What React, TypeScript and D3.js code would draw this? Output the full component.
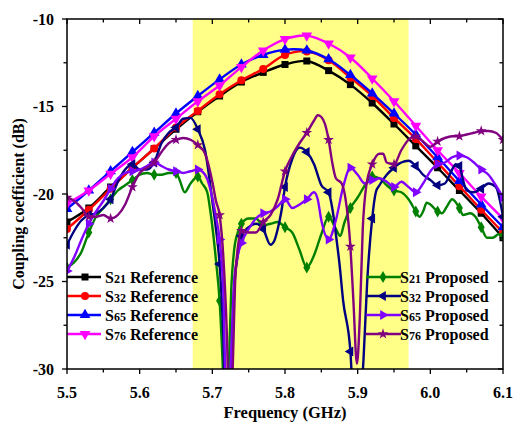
import React from 'react';
import * as d3 from 'd3';

const W = 514;
const H = 426;
const plot = { left: 67, right: 503, top: 19, bottom: 369 };

// Highlighted pass band (GHz)
const bandStart = 5.673;
const bandEnd = 5.97;

const xTicks = [5.5, 5.6, 5.7, 5.8, 5.9, 6.0, 6.1];
const xMinorTicks = [5.55, 5.65, 5.75, 5.85, 5.95, 6.05];
const yTicks = [-30, -25, -20, -15, -10];
const yMinorTicks = [-27.5, -22.5, -17.5, -12.5];

// Reference responses, sampled every 0.03 GHz
const refFreq = [5.5, 5.53, 5.56, 5.59, 5.62, 5.65, 5.68, 5.71, 5.74, 5.77, 5.8, 5.83, 5.86, 5.89, 5.92, 5.95, 5.98, 6.01, 6.04, 6.07, 6.1];
const s21Reference = [-21.6, -20.8, -19.6, -18.5, -17.4, -16.3, -15.3, -14.4, -13.6, -13.05, -12.6, -12.4, -12.95, -13.75, -14.8, -16.0, -17.25, -18.5, -19.8, -21.1, -22.5];
const s32Reference = [-22.0, -20.9, -19.7, -18.5, -17.4, -16.2, -15.25, -14.3, -13.5, -12.85, -12.05, -11.85, -12.35, -13.35, -14.4, -15.65, -16.85, -18.2, -19.55, -20.9, -22.2];
const s65Reference = [-20.85, -19.8, -18.7, -17.6, -16.5, -15.4, -14.4, -13.45, -12.6, -12.05, -11.75, -11.8, -12.3, -13.2, -14.25, -15.4, -16.6, -17.9, -19.25, -20.6, -21.9];
const s76Reference = [-20.55, -19.8, -18.85, -17.9, -16.7, -15.7, -14.7, -13.8, -12.75, -11.8, -11.15, -10.95, -11.4, -12.2, -13.4, -14.7, -16.1, -17.5, -18.8, -20.15, -21.4];

// Proposed responses
const s21ProposedFreq = [5.5, 5.51, 5.52, 5.53, 5.54, 5.55, 5.56, 5.57, 5.58, 5.59, 5.6, 5.61, 5.62, 5.63, 5.64, 5.65, 5.655, 5.662, 5.67, 5.68, 5.686, 5.693, 5.697, 5.701, 5.705, 5.71, 5.714, 5.718, 5.722, 5.726, 5.73, 5.735, 5.74, 5.75, 5.76, 5.77, 5.78, 5.79, 5.8, 5.81, 5.82, 5.83, 5.84, 5.85, 5.86, 5.87, 5.876, 5.882, 5.89, 5.9, 5.91, 5.92, 5.93, 5.94, 5.95, 5.96, 5.97, 5.98, 5.985, 5.99, 5.995, 6.0, 6.01, 6.016, 6.023, 6.03, 6.04, 6.045, 6.055, 6.062, 6.07, 6.078, 6.086, 6.094, 6.1];
const s21ProposedDb = [-24.2, -23.9, -23.3, -22.2, -21.3, -20.8, -20.3, -19.8, -19.5, -19.2, -18.9, -18.8, -18.9, -18.9, -18.8, -18.8, -19.2, -19.9, -19.4, -19.0, -19.4, -19.9, -20.9, -22.2, -23.8, -26.1, -29.5, -34, -31, -25.5, -23.2, -22.2, -21.7, -21.4, -21.4, -21.8, -21.7, -21.6, -21.9, -22.2, -23.2, -24.2, -23.5, -22.3, -21.3, -22.0, -22.4, -21.6, -20.8, -20.2, -19.5, -19.0, -19.1, -19.5, -19.8, -19.9, -20.3, -21.0, -21.3, -21.0, -20.5, -20.6, -21.0, -21.1, -20.7, -20.3, -20.8, -21.2, -21.1, -21.3, -21.9, -22.5, -22.5, -22.3, -22.4];

const s32ProposedFreq = [5.5, 5.51, 5.52, 5.53, 5.54, 5.55, 5.56, 5.57, 5.58, 5.59, 5.6, 5.61, 5.62, 5.63, 5.64, 5.65, 5.66, 5.67, 5.68, 5.69, 5.7, 5.705, 5.71, 5.715, 5.72, 5.726, 5.73, 5.735, 5.74, 5.75, 5.76, 5.77, 5.78, 5.785, 5.79, 5.795, 5.8, 5.81, 5.82, 5.83, 5.84, 5.85, 5.86, 5.865, 5.87, 5.875, 5.88, 5.89, 5.895, 5.9, 5.905, 5.908, 5.913, 5.92, 5.925, 5.93, 5.94, 5.95, 5.96, 5.97, 5.98, 5.99, 6.0, 6.01, 6.02, 6.03, 6.035, 6.04, 6.045, 6.05, 6.06, 6.07, 6.08, 6.09, 6.1];
const s32ProposedDb = [-22.9, -22.1, -21.5, -21.2, -21.1, -20.8, -20.3, -19.3, -18.6, -18.3, -18.6, -18.6, -18.2, -17.1, -16.5, -16.2, -15.7, -15.65, -16.3, -17.5, -20.4, -22.0, -24.0, -28, -35, -30, -25.5, -23.5, -22.4, -21.9, -21.7, -22.0, -22.9, -22.7, -22.0, -21.0, -19.6, -18.0, -17.35, -17.6, -18.3, -19.5, -19.9, -20.8, -22.3, -24.0, -26.1, -29.0, -33, -35, -31.5, -29.5, -25.1, -21.4, -19.9, -19.5, -18.9, -18.5, -18.2, -18.1, -18.4, -18.9, -19.2, -19.5, -19.4, -18.6, -18.3, -18.4, -19.2, -19.8, -19.9, -19.7, -19.4, -19.6, -21.3];

const s65ProposedFreq = [5.5, 5.51, 5.52, 5.53, 5.54, 5.55, 5.56, 5.57, 5.58, 5.59, 5.6, 5.61, 5.62, 5.63, 5.64, 5.65, 5.66, 5.67, 5.68, 5.69, 5.7, 5.705, 5.71, 5.715, 5.72, 5.725, 5.73, 5.735, 5.74, 5.75, 5.76, 5.77, 5.78, 5.79, 5.8, 5.81, 5.82, 5.83, 5.84, 5.845, 5.85, 5.86, 5.87, 5.88, 5.89, 5.9, 5.91, 5.92, 5.93, 5.94, 5.95, 5.96, 5.97, 5.98, 5.99, 6.0, 6.01, 6.02, 6.03, 6.04, 6.05, 6.06, 6.07, 6.08, 6.09, 6.1];
const s65ProposedDb = [-24.4, -23.6, -22.6, -21.7, -21.0, -20.4, -19.7, -19.1, -18.8, -18.7, -18.6, -18.4, -18.2, -18.4, -18.6, -18.7, -18.8, -18.7, -18.6, -18.9, -20.2, -21.3, -22.6, -25.5, -33, -30, -25, -23.5, -22.8, -22.0, -21.4, -21.1, -21.0, -20.7, -20.3, -20.8, -20.6, -20.3, -19.9, -20.3, -21.5, -22.6, -21.5, -19.6, -18.5, -18.9, -19.4, -19.2, -19.1, -19.3, -19.6, -19.3, -19.6, -19.9, -19.4, -18.7, -18.3, -18.2, -17.9, -17.8, -17.9, -18.2, -18.6, -18.9, -19.5, -20.2];

const s76ProposedFreq = [5.5, 5.51, 5.52, 5.53, 5.54, 5.55, 5.56, 5.57, 5.58, 5.59, 5.6, 5.61, 5.62, 5.63, 5.64, 5.65, 5.66, 5.67, 5.68, 5.69, 5.7, 5.705, 5.71, 5.715, 5.72, 5.724, 5.728, 5.732, 5.74, 5.75, 5.76, 5.77, 5.78, 5.79, 5.8, 5.81, 5.82, 5.83, 5.84, 5.845, 5.85, 5.855, 5.86, 5.865, 5.87, 5.878, 5.883, 5.89, 5.894, 5.899, 5.903, 5.907, 5.912, 5.92, 5.93, 5.935, 5.94, 5.95, 5.96, 5.97, 5.98, 5.99, 6.0, 6.01, 6.02, 6.03, 6.04, 6.05, 6.06, 6.07, 6.08, 6.09, 6.1];
const s76ProposedDb = [-20.2, -20.4, -20.8, -21.3, -21.3, -21.2, -21.4, -21.2, -20.6, -19.6, -18.8, -18.5, -18.2, -17.6, -17.1, -16.9, -16.8, -16.9, -17.2, -17.7, -19.3, -20.4, -21.2, -23.5, -28, -34, -30, -24.5, -22.1, -22.2, -22.2, -21.6, -21.2, -20.3, -18.7, -17.8, -17.1, -16.5, -15.8, -15.5, -15.6, -16.0, -16.9, -18.2, -19.1, -19.4, -20.2, -23.0, -26, -29.7, -27, -22, -19.5, -18.3, -17.7, -17.7, -18.2, -18.3, -17.5, -16.9, -16.7, -17.0, -17.3, -17.0, -16.8, -16.7, -16.7, -16.6, -16.5, -16.4, -16.4, -16.5, -16.9];

const legendLeft = ['S21 Reference', 'S32 Reference', 'S65 Reference', 'S76 Reference'];
const legendRight = ['S21 Proposed', 'S32 Proposed', 'S65 Proposed', 'S76 Proposed'];

type MarkerKind = 'square' | 'circle' | 'up' | 'down' | 'diamond' | 'left' | 'right' | 'star';

interface Series {
  name: string;
  freq: number[];
  db: number[];
  color: string;
  marker: MarkerKind;
  smooth: 'catmull' | 'monotone';
}

const seriesList: Series[] = [
  { name: legendLeft[0], freq: refFreq, db: s21Reference, color: '#000000', marker: 'square', smooth: 'catmull' },
  { name: legendLeft[1], freq: refFreq, db: s32Reference, color: '#FF0000', marker: 'circle', smooth: 'catmull' },
  { name: legendLeft[2], freq: refFreq, db: s65Reference, color: '#0000FF', marker: 'up', smooth: 'catmull' },
  { name: legendLeft[3], freq: refFreq, db: s76Reference, color: '#FF00FF', marker: 'down', smooth: 'catmull' },
  { name: legendRight[0], freq: s21ProposedFreq, db: s21ProposedDb, color: '#008000', marker: 'diamond', smooth: 'monotone' },
  { name: legendRight[1], freq: s32ProposedFreq, db: s32ProposedDb, color: '#000080', marker: 'left', smooth: 'monotone' },
  { name: legendRight[2], freq: s65ProposedFreq, db: s65ProposedDb, color: '#8000FF', marker: 'right', smooth: 'monotone' },
  { name: legendRight[3], freq: s76ProposedFreq, db: s76ProposedDb, color: '#800080', marker: 'star', smooth: 'monotone' },
];

const x = d3.scaleLinear().domain([5.5, 6.1]).range([plot.left, plot.right]);
const y = d3.scaleLinear().domain([-30, -10]).range([plot.bottom, plot.top]);

const FONT = '"Liberation Serif", "Times New Roman", serif';

function isMarkerFreq(f: number) {
  const k = (f - 5.5) / 0.03;
  return Math.abs(k - Math.round(k)) < 1e-6;
}

function Marker({ kind, cx, cy, color }: { kind: MarkerKind; cx: number; cy: number; color: string }) {
  const t = `translate(${cx},${cy})`;
  switch (kind) {
    case 'square':
      return <rect x={cx - 3.5} y={cy - 3.5} width={7} height={7} fill={color} />;
    case 'circle':
      return <circle cx={cx} cy={cy} r={4} fill={color} />;
    case 'up':
      return <path transform={t} d={d3.symbol(d3.symbolTriangle, 50)()!} fill={color} />;
    case 'down':
      return <path transform={`${t} rotate(180)`} d={d3.symbol(d3.symbolTriangle, 50)()!} fill={color} />;
    case 'left':
      return <path transform={`${t} rotate(-90)`} d={d3.symbol(d3.symbolTriangle, 42)()!} fill={color} />;
    case 'right':
      return <path transform={`${t} rotate(90)`} d={d3.symbol(d3.symbolTriangle, 42)()!} fill={color} />;
    case 'diamond':
      return <path transform={t} d={d3.symbol(d3.symbolDiamond, 42)()!} fill={color} />;
    case 'star':
      return <path transform={t} d={d3.symbol(d3.symbolStar, 36)()!} fill={color} />;
  }
}

function LegendLabel({ text, xPos, yPos }: { text: string; xPos: number; yPos: number }) {
  const letter = text.slice(0, 1);
  const digits = text.slice(1, 3);
  const rest = text.slice(3);
  return (
    <text x={xPos} y={yPos} fontFamily={FONT} fontWeight="bold" fontSize={16} fill="#000">
      <tspan>{letter}</tspan>
      <tspan fontSize={12}>{digits}</tspan>
      <tspan>{rest}</tspan>
    </text>
  );
}

export default function App() {
  const curves = seriesList.map((s) => {
    const pts: [number, number][] = s.freq.map((f, i) => [f, s.db[i]]);
    const line = d3
      .line<[number, number]>()
      .x((d) => x(d[0]))
      .y((d) => y(d[1]))
      .curve(s.smooth === 'catmull' ? d3.curveCatmullRom.alpha(0.5) : d3.curveMonotoneX);
    return { s, pts, path: line(pts) || '' };
  });

  const legendRowY = [277, 296, 315, 334];

  return (
    <div style={{ position: 'fixed', left: 0, top: 0 }}>
      <svg width={W} height={H} style={{ display: 'block', background: '#fff' }}>
        <defs>
          <clipPath id="plot-clip">
            <rect x={plot.left} y={plot.top} width={plot.right - plot.left} height={plot.bottom - plot.top} />
          </clipPath>
        </defs>

        {/* pass band */}
        <rect x={x(bandStart)} y={plot.top} width={x(bandEnd) - x(bandStart)} height={plot.bottom - plot.top} fill="#FFFF88" />

        <g clipPath="url(#plot-clip)">
          {curves.map(({ s, pts, path }) => (
            <g key={s.name}>
              <path d={path} fill="none" stroke={s.color} strokeWidth={2.4} strokeLinejoin="round" />
              {pts
                .filter((p) => isMarkerFreq(p[0]))
                .map((p, i) => (
                  <Marker key={i} kind={s.marker} cx={x(p[0])} cy={y(p[1])} color={s.color} />
                ))}
            </g>
          ))}
        </g>

        {/* legends */}
        {seriesList.slice(0, 4).map((s, i) => (
          <g key={s.name}>
            <line x1={67} x2={101} y1={legendRowY[i]} y2={legendRowY[i]} stroke={s.color} strokeWidth={2.5} />
            <Marker kind={s.marker} cx={85} cy={legendRowY[i]} color={s.color} />
            <LegendLabel text={s.name} xPos={105} yPos={legendRowY[i] + 5.5} />
          </g>
        ))}
        {seriesList.slice(4).map((s, i) => (
          <g key={s.name}>
            <line x1={366} x2={401} y1={legendRowY[i]} y2={legendRowY[i]} stroke={s.color} strokeWidth={2.5} />
            <Marker kind={s.marker} cx={383} cy={legendRowY[i]} color={s.color} />
            <LegendLabel text={s.name} xPos={400} yPos={legendRowY[i] + 5.5} />
          </g>
        ))}

        {/* frame */}
        <rect x={plot.left} y={plot.top} width={plot.right - plot.left} height={plot.bottom - plot.top} fill="none" stroke="#000" strokeWidth={1.5} />

        {/* x ticks */}
        {xTicks.map((t) => (
          <g key={`xt${t}`}>
            <line x1={x(t)} x2={x(t)} y1={plot.bottom} y2={plot.bottom + 5} stroke="#000" strokeWidth={1.3} />
            <line x1={x(t)} x2={x(t)} y1={plot.top} y2={plot.top + 5} stroke="#000" strokeWidth={1.3} />
            <text x={x(t)} y={398} textAnchor="middle" fontFamily={FONT} fontWeight="bold" fontSize={16} fill="#000">
              {t.toFixed(1)}
            </text>
          </g>
        ))}
        {xMinorTicks.map((t) => (
          <g key={`xm${t}`}>
            <line x1={x(t)} x2={x(t)} y1={plot.bottom} y2={plot.bottom + 3.5} stroke="#000" strokeWidth={1.3} />
            <line x1={x(t)} x2={x(t)} y1={plot.top} y2={plot.top + 3.5} stroke="#000" strokeWidth={1.3} />
          </g>
        ))}

        {/* y ticks */}
        {yTicks.map((t) => (
          <g key={`yt${t}`}>
            <line x1={plot.left - 5} x2={plot.left} y1={y(t)} y2={y(t)} stroke="#000" strokeWidth={1.3} />
            <line x1={plot.right - 5} x2={plot.right} y1={y(t)} y2={y(t)} stroke="#000" strokeWidth={1.3} />
            <text x={54} y={y(t) + 5.5} textAnchor="end" fontFamily={FONT} fontWeight="bold" fontSize={16} fill="#000">
              {String(t)}
            </text>
          </g>
        ))}
        {yMinorTicks.map((t) => (
          <g key={`ym${t}`}>
            <line x1={plot.left - 3.5} x2={plot.left} y1={y(t)} y2={y(t)} stroke="#000" strokeWidth={1.3} />
            <line x1={plot.right - 3.5} x2={plot.right} y1={y(t)} y2={y(t)} stroke="#000" strokeWidth={1.3} />
          </g>
        ))}

        {/* axis titles */}
        <text x={285} y={418} textAnchor="middle" fontFamily={FONT} fontWeight="bold" fontSize={16.5} fill="#000">
          Frequency (GHz)
        </text>
        <text
          transform={`translate(24,204) rotate(-90)`}
          textAnchor="middle"
          fontFamily={FONT}
          fontWeight="bold"
          fontSize={16}
          fill="#000"
        >
          Coupling coefficient (dB)
        </text>
      </svg>
    </div>
  );
}
